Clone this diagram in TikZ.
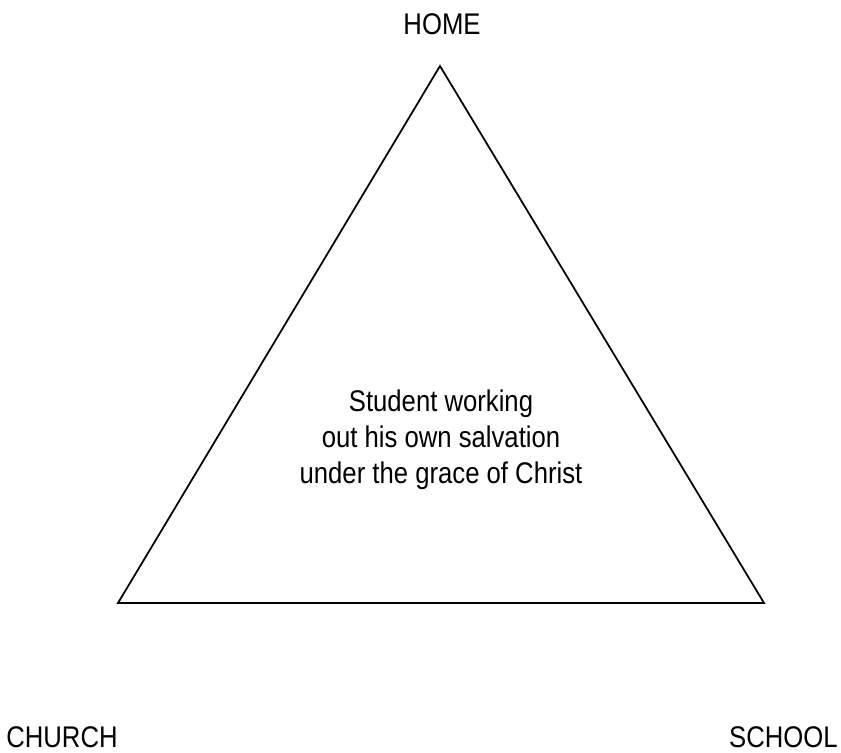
\documentclass[tikz,border=0pt]{standalone}
\usepackage{fontspec}
\setmainfont[FakeStretch=0.86]{Liberation Sans}
\usepackage{tikz}

\begin{document}
\begin{tikzpicture}[x=0.02cm,y=-0.02cm,font=\fontsize{17}{20.5}\selectfont]
  \useasboundingbox (0,0) rectangle (841,752);
  \coordinate (top) at (440,66);
  \coordinate (left) at (118,603);
  \coordinate (right) at (764,603);
  \draw[line width=1pt] (top) to (right) to (left) to cycle;
  \node (home) at (442,34) [anchor=base] {HOME};
  \node (church) at (6,747) [anchor=base west,inner sep=0pt] {CHURCH};
  \node (school) at (838,747) [anchor=base east,inner sep=0pt] {SCHOOL};
  \node (student) at (441,440) [align=center] {Student working\\out his own salvation\\under the grace of Christ};
\end{tikzpicture}
\end{document}
